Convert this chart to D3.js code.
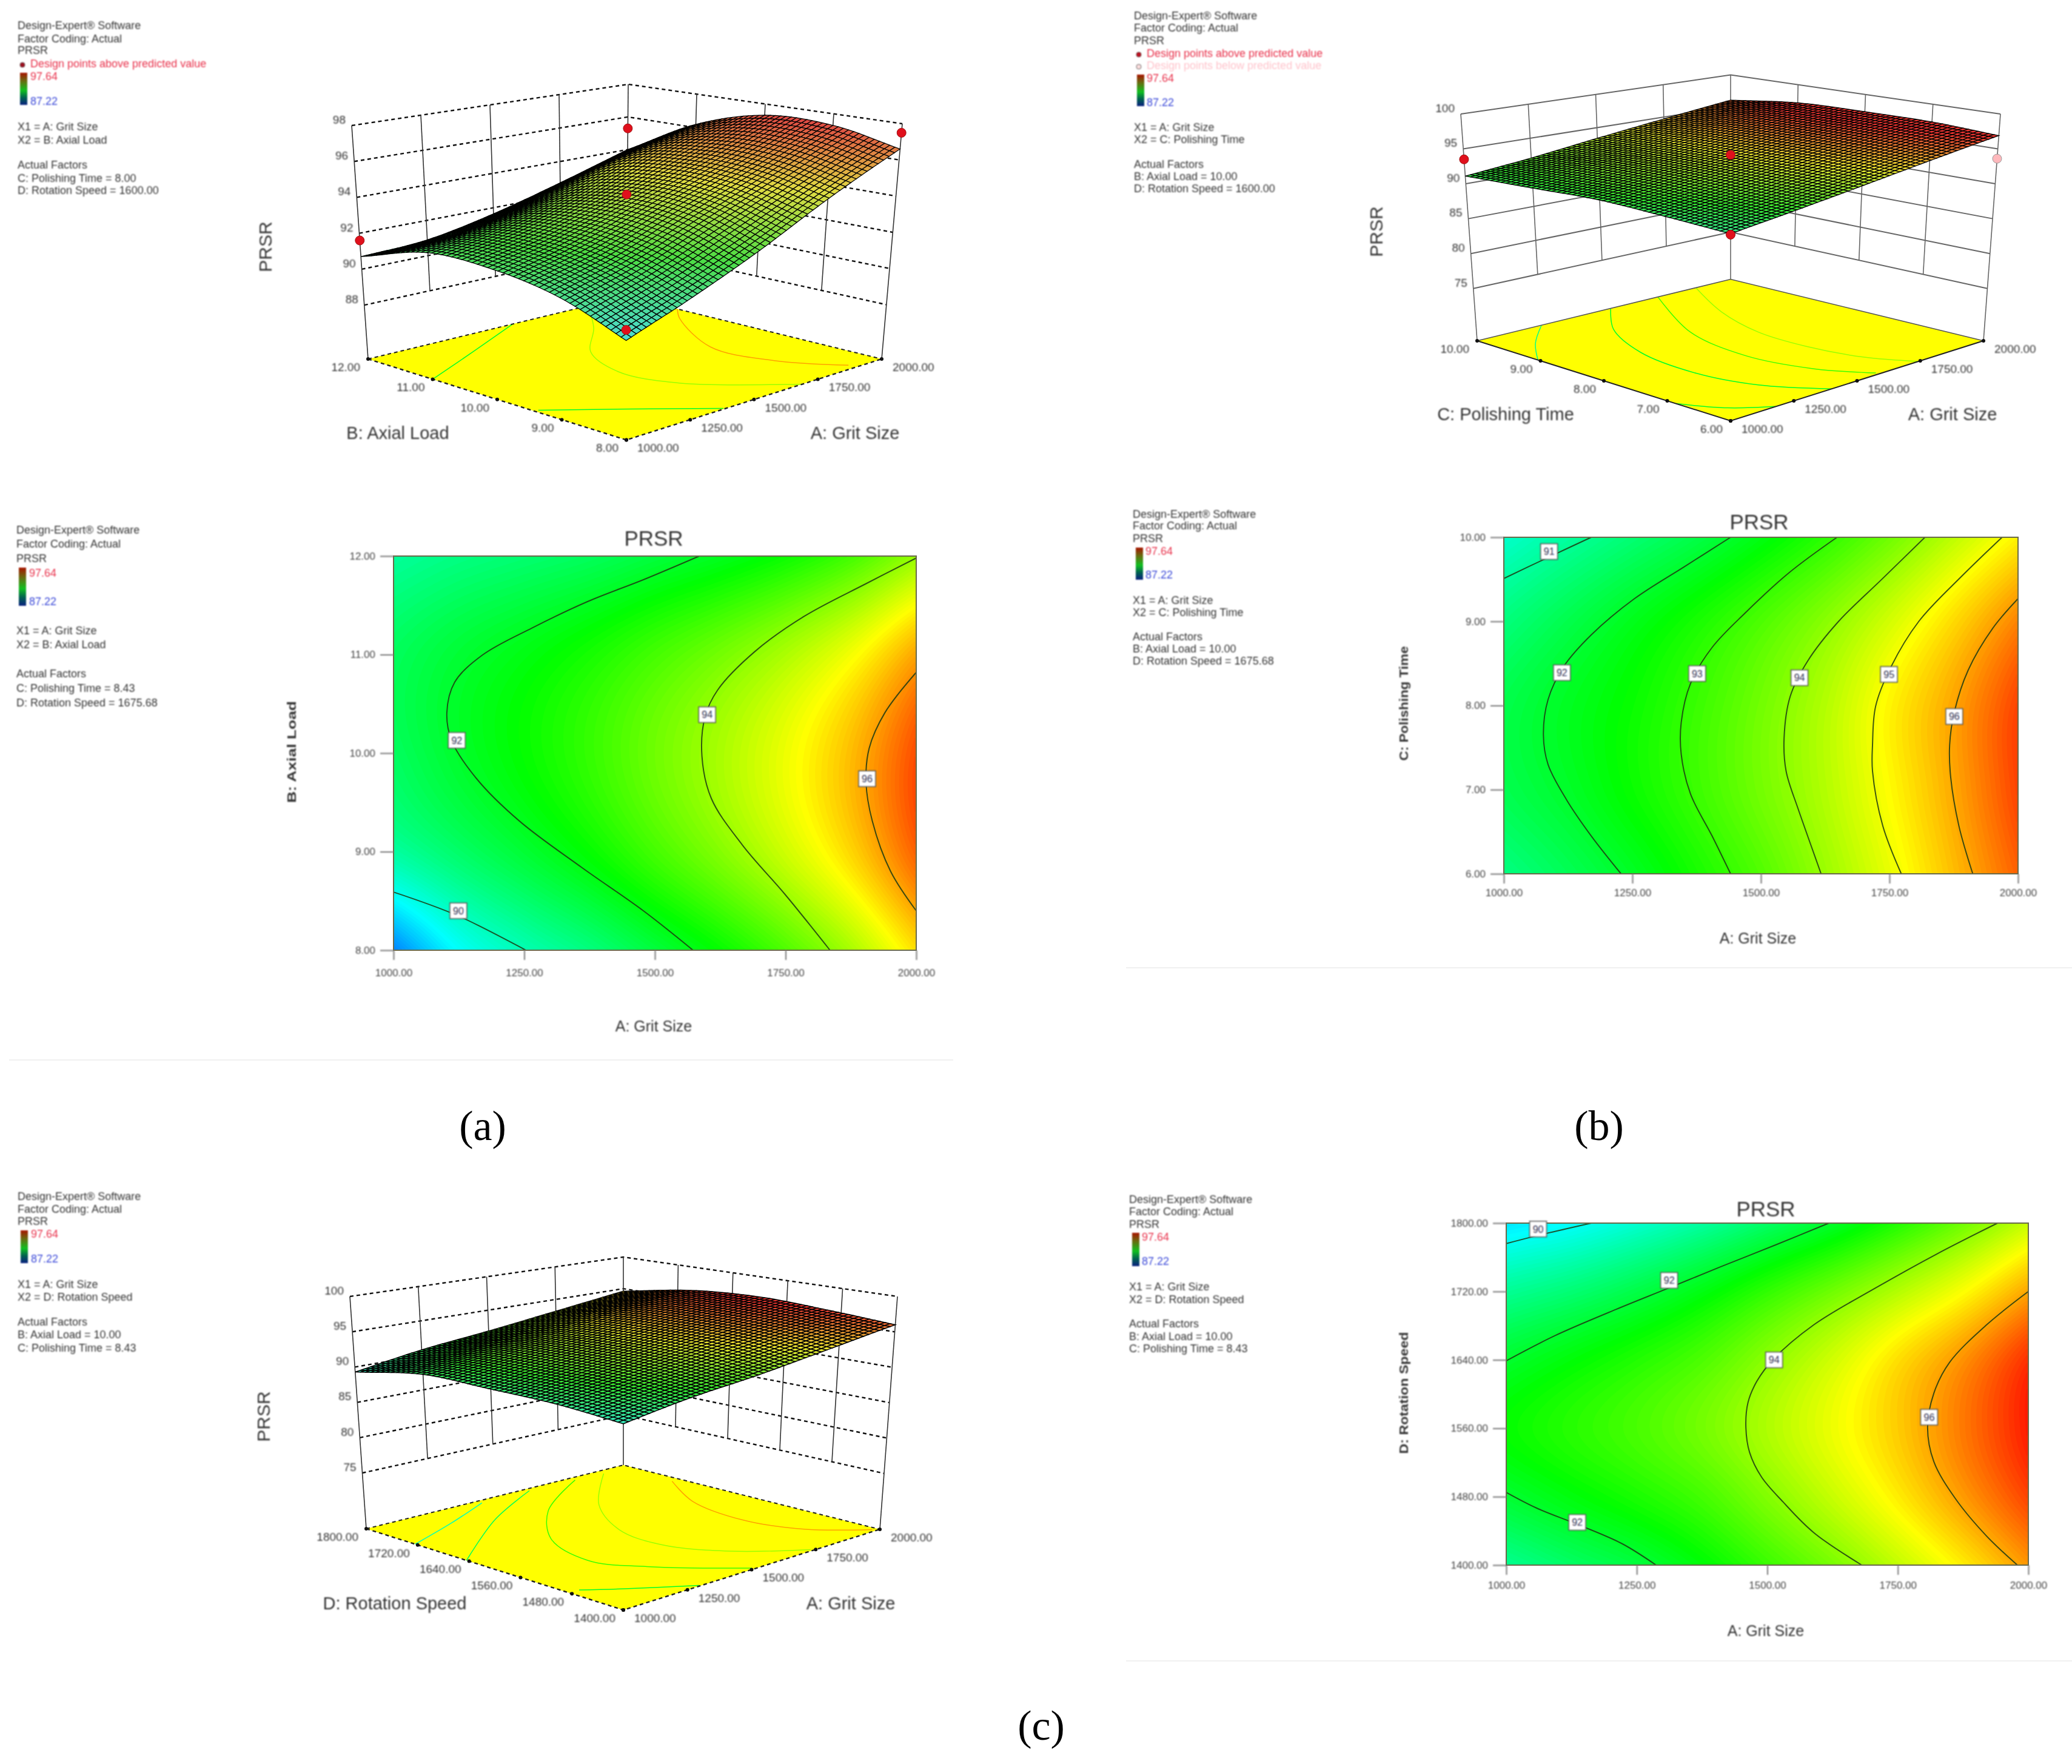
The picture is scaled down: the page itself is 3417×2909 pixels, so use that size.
<!DOCTYPE html>
<html>
<head>
<meta charset="utf-8">
<title>PRSR response surfaces</title>
<script src="https://cdn.jsdelivr.net/npm/d3@7"></script>
<style>
body { margin: 0; background: #fff; }
text { font-family: "Liberation Sans", Arial, sans-serif; fill: #333; }
.soft { filter: blur(0.8px); }
.mesh { filter: blur(0.5px); }
</style>
</head>
<body>
<div id="chart"></div>
<script>
// Tick values
const gritTicks = [1000, 1250, 1500, 1750, 2000];
const axialTicks = [8, 9, 10, 11, 12];
const polishTicks = [6, 7, 8, 9, 10];
const rotationTicks = [1400, 1480, 1560, 1640, 1720, 1800];
const zTicksAxial = [88, 90, 92, 94, 96, 98];
const zTicksWide = [75, 80, 85, 90, 95, 100];

// Contour plot responses.
// One row per factor step (low to high), columns are Grit Size 1000..2000 by 125
const fieldAxial = [
    [88.6, 89.9, 90.63, 91.19, 91.85, 92.51, 93.27, 94.19, 95.4],
    [90.83, 91.41, 91.94, 92.5, 93.16, 93.82, 94.58, 95.49, 96.7],
    [91.5, 92.03, 92.5, 93.0, 93.6, 94.2, 94.9, 95.75, 96.9],
    [91.53, 91.94, 92.29, 92.68, 93.16, 93.65, 94.23, 94.97, 96.0],
    [90.9, 91.14, 91.33, 91.54, 91.85, 92.16, 92.57, 93.14, 94.0]
];
const fieldPolish = [
    [91.15, 91.6, 92.1, 92.7, 93.3, 94.05, 94.85, 95.75, 96.7],
    [91.65, 92.05, 92.55, 93.07, 93.65, 94.3, 95.1, 95.97, 97.0],
    [91.7, 92.13, 92.55, 93.05, 93.63, 94.3, 95.17, 96.0, 97.0],
    [91.2, 91.7, 92.2, 92.7, 93.25, 93.87, 94.62, 95.45, 96.35],
    [90.4, 90.85, 91.3, 91.75, 92.3, 92.9, 93.6, 94.4, 95.2]
];
const fieldRotation = [
    [91.0, 91.45, 91.85, 92.4, 93.05, 93.7, 94.45, 95.25, 96.15],
    [91.95, 92.35, 92.72, 93.15, 93.8, 94.5, 95.25, 96.1, 97.0],
    [92.5, 92.85, 93.2, 93.65, 94.25, 94.9, 95.6, 96.45, 97.4],
    [92.0, 92.4, 92.8, 93.25, 93.9, 94.6, 95.4, 96.2, 97.2],
    [90.95, 91.3, 91.75, 92.3, 92.95, 93.6, 94.3, 95.05, 96.0],
    [89.6, 89.9, 90.35, 90.85, 91.45, 92.05, 92.8, 93.6, 94.5]
];

// Contour lines, [grit size, factor]
const linesAxial = [
    { level: 90, pts: [[1000, 8.59], [1123, 8.35], [1253, 8]] },
    { level: 92, pts: [[1585, 12], [1478, 11.76], [1372, 11.54], [1265, 11.27], [1170, 10.995], [1117, 10.72], [1102, 10.41], [1111, 10.13], [1159, 9.74], [1241, 9.31], [1360, 8.84], [1478, 8.4], [1573, 8]] },
    { level: 94, pts: [[2000, 11.98], [1904, 11.72], [1786, 11.39], [1691, 11.03], [1620, 10.64], [1596, 10.37], [1590, 9.97], [1608, 9.54], [1667, 9.07], [1750, 8.56], [1835, 8]] },
    { level: 96, pts: [[2000, 10.82], [1940, 10.41], [1910, 10.05], [1904, 9.7], [1916, 9.31], [1951, 8.8], [2000, 8.4]] }
];
const linesPolish = [
    { level: 91, pts: [[1000, 9.51], [1086, 9.76], [1170, 10]] },
    { level: 92, pts: [[1441, 10], [1351, 9.65], [1254, 9.27], [1170, 8.84], [1116, 8.46], [1086, 8.07], [1077, 7.65], [1086, 7.3], [1122, 6.88], [1170, 6.45], [1228, 6]] },
    { level: 93, pts: [[1648, 10], [1555, 9.58], [1471, 9.11], [1405, 8.69], [1363, 8.26], [1345, 7.8], [1345, 7.42], [1363, 6.95], [1405, 6.45], [1441, 6]] },
    { level: 94, pts: [[1819, 10], [1735, 9.5], [1651, 9], [1591, 8.53], [1557, 8.11], [1545, 7.61], [1549, 7.22], [1573, 6.76], [1617, 6]] },
    { level: 95, pts: [[1969, 10], [1891, 9.54], [1807, 9], [1753, 8.46], [1723, 7.99], [1717, 7.53], [1717, 7.22], [1737, 6.57], [1773, 6]] },
    { level: 96, pts: [[2000, 9.27], [1951, 8.92], [1903, 8.42], [1876, 7.92], [1867, 7.53], [1869, 7.15], [1885, 6.57], [1912, 6]] }
];
const linesRotation = [
    { level: 90, pts: [[1000, 1776], [1057, 1785], [1163, 1800]] },
    { level: 92, pts: [[1000, 1639], [1092, 1668], [1210, 1699], [1311, 1724], [1411, 1749], [1518, 1775], [1618, 1800]] },
    { level: 92, pts: [[1000, 1485], [1057, 1467], [1139, 1447], [1222, 1425], [1287, 1400]] },
    { level: 94, pts: [[1941, 1800], [1825, 1764], [1707, 1724], [1589, 1681], [1512, 1641], [1480, 1615], [1463, 1590], [1459, 1561], [1466, 1532], [1489, 1503], [1530, 1474], [1589, 1438], [1681, 1400]] },
    { level: 96, pts: [[2000, 1720], [1920, 1681], [1849, 1637], [1819, 1601], [1807, 1561], [1819, 1521], [1860, 1478], [1920, 1434], [1979, 1400]] }
];

// Contour label spots, [level, grit size, factor]
const labelsAxial = [[92, 1121, 10.13], [94, 1600, 10.39], [96, 1906, 9.74], [90, 1124, 8.4]];
const labelsPolish = [[91, 1088, 9.83], [92, 1113, 8.39], [93, 1376, 8.38], [94, 1575, 8.33], [95, 1749, 8.37], [96, 1876, 7.87]];
const labelsRotation = [[90, 1061, 1793], [92, 1312, 1733], [94, 1513, 1640], [96, 1810, 1573], [92, 1136, 1450]];

// 3D surface heights at the walls and centre.
// One row per factor step (low to high), columns are Grit Size 1000..2000 by 250
const surfAxial = [
    [89.7, 91.0, 92.6, 94.6, 96.6],
    [91.0, 92.1, 93.7, 95.4, 97.35],
    [91.65, 92.6, 94.0, 95.6, 97.35],
    [91.75, 92.4, 93.4, 95.0, 96.2],
    [90.7, 90.9, 91.65, 92.73, 94.0]
];
const surfPolish = [
    [90.2, 91.6, 93.2, 95.0, 96.9],
    [90.8, 92.1, 93.7, 95.5, 97.4],
    [91.3, 92.6, 93.9, 95.7, 97.4],
    [91.2, 92.6, 93.8, 95.5, 97.2],
    [91.1, 92.1, 93.4, 94.7, 96.0]
];
const surfRotation = [
    [89.5, 91.1, 92.4, 94.1, 96.0],
    [90.3, 91.9, 93.4, 95.1, 96.6],
    [90.6, 92.2, 93.7, 95.4, 97.0],
    [90.8, 92.1, 93.3, 95.0, 96.4],
    [89.3, 90.8, 91.9, 93.2, 94.6]
];

// Contours on the yellow floor of the 3D plots
const floorAxial = [
    { level: 92, pts: [[1560, 12], [1290, 11.5], [1000, 11]] },
    { level: 92, pts: [[1014, 9.42], [1205, 8.74], [1385, 8.02]] },
    { level: 94, pts: [[1850, 12], [1695, 11.28], [1514, 10.6], [1430, 9.84], [1470, 9.04], [1655, 8.14], [1690, 8]] },
    { level: 96, pts: [[2000, 11.2], [1930, 10.88], [1780, 9.8], [1800, 8.88], [1900, 8.12]] }
];
const floorPolish = [
    { level: 92, pts: [[1000, 6.86], [1076, 6.35], [1179, 6]] },
    { level: 91, pts: [[1254, 10], [1110, 9.52], [1000, 9.04]] },
    { level: 92, pts: [[1527, 10], [1378, 9.36], [1270, 8.5], [1240, 7.5], [1285, 6.7], [1400, 6]] },
    { level: 93, pts: [[1713, 10], [1516, 8.7], [1458, 7.59], [1500, 6.68], [1587, 6.05]] },
    { level: 94, pts: [[1863, 10], [1727, 9.05], [1650, 8.16], [1640, 7.36], [1672, 6.59], [1742, 6]] }
];
const floorRotation = [
    { level: 92, pts: [[1038, 1484], [1136, 1452], [1300, 1402]] },
    { level: 90.5, pts: [[1430, 1792], [1220, 1756], [1000, 1724]] },
    { level: 91.5, pts: [[1617, 1793], [1335, 1734], [1000, 1644]] },
    { level: 93, pts: [[1790, 1791], [1508, 1720], [1319, 1640], [1247, 1554], [1327, 1489], [1510, 1404]] },
    { level: 94, pts: [[1896, 1789], [1653, 1699], [1517, 1613], [1496, 1538], [1583, 1466], [1740, 1404]] },
    { level: 96, pts: [[1970, 1712], [1860, 1636], [1820, 1540], [1868, 1465], [1985, 1406]] }
];

// Design points [grit size, factor, PRSR, above predicted?]
const pointsAxial = [[1000, 12, 91.6, 1], [2000, 12, 95.3, 1], [2000, 8, 97.5, 1], [1500, 10, 94.2, 1], [1000, 8, 90.2, 1]];
const pointsPolish = [[1000, 10, 93.5, 1], [1500, 8, 94.26, 1], [1000, 6, 90.1, 1], [2000, 6, 93.6, 0]];
const pointsRotation = [];

const colorStops = [87.22, 89.825, 92.43, 95.035, 97.64];
const colorRange = ['#0000ff', '#00ffff', '#00ff00', '#ffff00', '#ff0000'];
const color = d3.scaleLinear().domain(colorStops).range(colorRange).clamp(true);
// The wire surfaces are shaded, so their colours sit paler than the flat contour fill
const shaded = (v, amount) => d3.interpolateRgb(color(v), '#b4aca0')(amount);

const svg = d3.select('#chart').append('svg')
    .attr('width', 3417)
    .attr('height', 2909)
    .style('display', 'block');

const defs = svg.append('defs');
const legendGrad = defs.append('linearGradient')
    .attr('id', 'legendGrad')
    .attr('x1', 0).attr('y1', 0).attr('x2', 0).attr('y2', 1);
[['0', '#a81400'], ['0.25', '#6a6a10'], ['0.55', '#10c020'], ['0.78', '#006050'], ['1', '#0a2080']].forEach(s => {
    legendGrad.append('stop').attr('offset', s[0]).attr('stop-color', s[1]);
});

// Catmull-Rom lookup in a value table, u along columns, v along rows, both 0..1.
// Only used to give the fills and the wire mesh a fine enough resolution
function sampleGrid(grid, u, v) {
    const rows = grid.length, cols = grid[0].length;
    const at = (r, c) => {
        const rr = Math.min(rows - 1, Math.max(0, r));
        const cc = Math.min(cols - 1, Math.max(0, c));
        let val = grid[rr][cc];
        if (r < 0) val += grid[0][cc] - grid[1][cc];
        if (r >= rows) val += grid[rows - 1][cc] - grid[rows - 2][cc];
        if (c < 0) val += grid[rr][0] - grid[rr][1];
        if (c >= cols) val += grid[rr][cols - 1] - grid[rr][cols - 2];
        return val;
    };
    const cr = (a, b, c, d, t) => 0.5 * (2 * b + (c - a) * t + (2 * a - 5 * b + 4 * c - d) * t * t + (3 * b - a - 3 * c + d) * t * t * t);
    const fx = Math.min(u * (cols - 1), cols - 1.000001), fy = Math.min(v * (rows - 1), rows - 1.000001);
    const c0 = Math.floor(fx), r0 = Math.floor(fy);
    const tx = fx - c0, ty = fy - r0;
    const row = r => cr(at(r, c0 - 1), at(r, c0), at(r, c0 + 1), at(r, c0 + 2), tx);
    return cr(row(r0 - 1), row(r0), row(r0 + 1), row(r0 + 2), ty);
}

const curved = d3.line().curve(d3.curveCatmullRom.alpha(0.5));
const straight = d3.line();

function drawLegend(cfg) {
    const g = svg.append('g').attr('class', 'soft');
    cfg.lines.forEach(l => {
        g.append('text')
            .attr('x', l.x !== undefined ? l.x : cfg.x)
            .attr('y', l.y)
            .style('font-size', '18px')
            .style('fill', l.color || '#333')
            .text(l.text);
    });
    g.append('rect')
        .attr('x', cfg.bar[0]).attr('y', cfg.bar[1])
        .attr('width', 12).attr('height', cfg.bar[2])
        .style('fill', 'url(#legendGrad)');
    (cfg.bullets || []).forEach(b => {
        g.append('circle')
            .attr('cx', b[0]).attr('cy', b[1]).attr('r', 4)
            .style('fill', b[2])
            .style('stroke', '#444')
            .style('stroke-width', 0.8);
    });
}

function drawContourPlot(cfg) {
    const x = d3.scaleLinear().domain([1000, 2000]).range(cfg.xr);
    const y = d3.scaleLinear().domain(d3.extent(cfg.yTicks)).range(cfg.yr);
    const g = svg.append('g');
    const w = cfg.xr[1] - cfg.xr[0], h = cfg.yr[0] - cfg.yr[1];

    // Colour fill from stacked filled contours
    const nx = 150, ny = 120;
    const values = [];
    for (let j = 0; j < ny; j++) {
        for (let i = 0; i < nx; i++) {
            values.push(sampleGrid(cfg.field, (i + 0.5) / nx, 1 - (j + 0.5) / ny));
        }
    }
    const contours = d3.contours().size([nx, ny]).thresholds(d3.range(86, 98.5, 0.08))(values);
    const toPlot = d3.geoTransform({
        point(px, py) {
            this.stream.point(cfg.xr[0] + px * w / nx, cfg.yr[1] + py * h / ny);
        }
    });
    g.append('g').selectAll('path')
        .data(contours)
        .join('path')
        .attr('d', d3.geoPath(toPlot))
        .style('fill', d => color(d.value));

    // Contour lines
    g.append('g').selectAll('path')
        .data(cfg.lines)
        .join('path')
        .attr('d', d => curved(d.pts.map(p => [x(p[0]), y(p[1])])))
        .style('fill', 'none')
        .style('stroke', '#1c3a12')
        .style('stroke-opacity', 0.85)
        .style('stroke-width', 2);

    // Frame
    g.append('rect')
        .attr('x', cfg.xr[0]).attr('y', cfg.yr[1])
        .attr('width', w).attr('height', h)
        .style('fill', 'none')
        .style('stroke', '#6a6a4a')
        .style('stroke-width', 2);

    // Axes
    const soft = svg.append('g').attr('class', 'soft');
    const xAxis = soft.append('g')
        .attr('transform', `translate(0, ${cfg.yr[0]})`)
        .call(d3.axisBottom(x).tickValues(gritTicks).tickSize(16).tickPadding(cfg.xPad).tickFormat(d3.format('.2f')));
    const yAxis = soft.append('g')
        .attr('transform', `translate(${cfg.xr[0]}, 0)`)
        .call(d3.axisLeft(y).tickValues(cfg.yTicks).tickSize(22).tickPadding(8).tickFormat(d3.format('.2f')));
    [xAxis, yAxis].forEach(a => {
        a.select('.domain').remove();
        a.selectAll('line').style('stroke', '#777').style('stroke-width', 2);
        a.selectAll('text').style('font-size', '17px').style('fill', '#444').style('font-family', '"Liberation Sans", Arial, sans-serif');
    });

    soft.append('text')
        .attr('x', cfg.title[0]).attr('y', cfg.title[1])
        .attr('text-anchor', 'middle')
        .attr('dy', '0.36em')
        .style('font-size', '35px')
        .text('PRSR');
    soft.append('text')
        .attr('x', cfg.xLabel[0]).attr('y', cfg.xLabel[1])
        .attr('text-anchor', 'middle')
        .attr('dy', '0.36em')
        .style('font-size', '25px')
        .text('A: Grit Size');
    soft.append('text')
        .attr('transform', `translate(${cfg.yLabel[0]}, ${cfg.yLabel[1]}) rotate(-90)`)
        .attr('text-anchor', 'middle')
        .attr('dy', '0.36em')
        .attr('textLength', cfg.yLabel[3])
        .attr('lengthAdjust', 'spacingAndGlyphs')
        .style('font-size', '21px')
        .style('font-weight', 'bold')
        .text(cfg.yLabel[2]);

    // Value tags on the contours
    const tags = soft.selectAll('g.tag')
        .data(cfg.labels)
        .join('g')
        .attr('class', 'tag')
        .attr('transform', d => `translate(${x(d[1])}, ${y(d[2])})`);
    tags.append('rect')
        .attr('x', -14).attr('y', -13)
        .attr('width', 28).attr('height', 26)
        .style('fill', '#fff')
        .style('stroke', '#555')
        .style('stroke-width', 1.5);
    tags.append('text')
        .attr('text-anchor', 'middle')
        .attr('dy', '0.36em')
        .style('font-size', '16px')
        .style('fill', '#335')
        .text(d => d[0]);
}

function drawSurface(cfg) {
    const uS = d3.scaleLinear().domain([1000, 2000]).range([0, 1]);
    const vS = d3.scaleLinear().domain(d3.extent(cfg.vTicks)).range([0, 1]);
    const wS = d3.scaleLinear().domain(cfg.zDomain).range([0, 1]);
    const c = cfg.corners;
    const lerp = (a, b, t) => a + (b - a) * t;
    const bil = (lvl, k, u, v) => lerp(
        lerp(c.F[lvl][k], c.R[lvl][k], u),
        lerp(c.L[lvl][k], c.B[lvl][k], u), v);
    const pr = (a, f, z) => {
        const u = uS(a), v = vS(f), w = wS(z);
        return [0, 1].map(k => lerp(bil(0, k, u, v), bil(1, k, u, v), w));
    };
    const aMax = 2000, aMin = 1000, fMin = vS.domain()[0], fMax = vS.domain()[1];
    const g = svg.append('g');
    const zLow = cfg.zTicks[0], zTop = cfg.zTicks[cfg.zTicks.length - 1];

    // Back walls
    const zPath = z => [pr(aMin, fMax, z), pr(aMax, fMax, z), pr(aMax, fMin, z)];
    g.append('g').selectAll('path')
        .data(cfg.zTicks)
        .join('path')
        .attr('d', d => straight(zPath(d)))
        .style('fill', 'none')
        .style('stroke', cfg.wallColor)
        .style('stroke-width', cfg.wallWidth)
        .style('stroke-dasharray', cfg.wallDash);

    const verticals = [];
    gritTicks.forEach(a => verticals.push([a, fMax, a === aMin || a === aMax ? cfg.zDomain[0] : zLow]));
    cfg.vTicks.filter(f => f < fMax).forEach(f => {
        verticals.push([aMax, f, f === fMin ? cfg.zDomain[0] : zLow]);
    });
    g.append('g').selectAll('path')
        .data(verticals)
        .join('path')
        .attr('d', d => straight([pr(d[0], d[1], zTop), pr(d[0], d[1], d[2])]))
        .style('stroke', cfg.vertColor)
        .style('stroke-width', 1.6);

    // Z tick labels on the left wall edge
    const soft = svg.append('g').attr('class', 'soft');
    soft.selectAll('text.ztick')
        .data(cfg.zTicks)
        .join('text')
        .attr('class', 'ztick')
        .attr('x', d => pr(aMin, fMax, d)[0] - 10)
        .attr('y', d => pr(aMin, fMax, d)[1] - 10)
        .attr('text-anchor', 'end')
        .attr('dy', '0.36em')
        .style('font-size', '19px')
        .text(d => d);

    // Yellow floor with its contours
    const corners = [[aMin, fMin], [aMax, fMin], [aMax, fMax], [aMin, fMax]].map(p => pr(p[0], p[1], cfg.zDomain[0]));
    g.append('path')
        .attr('d', straight(corners) + 'Z')
        .style('fill', '#ffff00');
    g.append('g').selectAll('path')
        .data(cfg.floor)
        .join('path')
        .attr('d', d => curved(d.pts.map(p => pr(p[0], p[1], cfg.zDomain[0]))))
        .style('fill', 'none')
        .style('stroke', d => color(d.level))
        .style('stroke-width', 1.5);
    g.append('path')
        .attr('d', straight([corners[3], corners[0], corners[1]]))
        .style('fill', 'none')
        .style('stroke', '#222')
        .style('stroke-width', cfg.wallWidth)
        .style('stroke-dasharray', cfg.wallDash);
    g.append('path')
        .attr('d', straight([corners[3], corners[2], corners[1]]))
        .style('fill', 'none')
        .style('stroke', cfg.wallDash === 'none' ? '#555' : '#222')
        .style('stroke-width', cfg.wallWidth - 0.4)
        .style('stroke-dasharray', cfg.wallDash);

    // Floor ticks and labels
    const fmt = d3.format('.2f');
    gritTicks.forEach(a => {
        const p = pr(a, fMin, cfg.zDomain[0]);
        g.append('circle').attr('cx', p[0]).attr('cy', p[1]).attr('r', 3).style('fill', '#111');
        soft.append('text')
            .attr('x', p[0] + 18).attr('y', p[1] + 13)
            .attr('dy', '0.36em')
            .style('font-size', '19px')
            .text(fmt(a));
    });
    cfg.vTicks.forEach(f => {
        const p = pr(aMin, f, cfg.zDomain[0]);
        g.append('circle').attr('cx', p[0]).attr('cy', p[1]).attr('r', 3).style('fill', '#111');
        soft.append('text')
            .attr('x', p[0] - 13).attr('y', p[1] + 13)
            .attr('text-anchor', 'end')
            .attr('dy', '0.36em')
            .style('font-size', '19px')
            .text(fmt(f));
    });

    // Surface mesh, painted from the back corner to the front one
    const n = 52;
    const cell = i => i / n;
    const uD = d3.scaleLinear().domain([0, 1]).range([aMin, aMax]);
    const vD = d3.scaleLinear().domain([0, 1]).range([fMin, fMax]);
    const cells = [];
    for (let j = n - 1; j >= 0; j--) {
        for (let i = n - 1; i >= 0; i--) {
            const q = [[i, j], [i + 1, j], [i + 1, j + 1], [i, j + 1]].map(p => {
                const z = sampleGrid(cfg.surf, cell(p[0]), cell(p[1]));
                return { z, xy: pr(uD(cell(p[0])), vD(cell(p[1])), z) };
            });
            cells.push(q);
        }
    }
    g.append('g').attr('class', 'mesh').selectAll('path')
        .data(cells)
        .join('path')
        .attr('d', d => straight(d.map(p => p.xy)) + 'Z')
        .style('fill', d => shaded(d3.mean(d, p => p.z) + cfg.colorShift, cfg.meshGrey))
        .style('stroke', '#000')
        .style('stroke-width', cfg.meshWidth);

    // Design points
    g.append('g').selectAll('circle')
        .data(cfg.points)
        .join('circle')
        .attr('cx', d => pr(d[0], d[1], d[2])[0])
        .attr('cy', d => pr(d[0], d[1], d[2])[1])
        .attr('r', 7.5)
        .style('fill', d => d[3] ? '#e0101c' : '#ffb8bc')
        .style('stroke', d => d[3] ? '#a01010' : '#999')
        .style('stroke-width', 1);

    // Axis titles
    soft.append('text')
        .attr('transform', `translate(${cfg.zLabel[0]}, ${cfg.zLabel[1]}) rotate(-90)`)
        .attr('text-anchor', 'middle')
        .attr('dy', '0.36em')
        .style('font-size', '30px')
        .text('PRSR');
    soft.append('text')
        .attr('x', cfg.vLabel[0]).attr('y', cfg.vLabel[1])
        .attr('text-anchor', 'middle')
        .attr('dy', '0.36em')
        .style('font-size', '29px')
        .text(cfg.vLabel[2]);
    soft.append('text')
        .attr('x', cfg.uLabel[0]).attr('y', cfg.uLabel[1])
        .attr('text-anchor', 'middle')
        .attr('dy', '0.36em')
        .style('font-size', '29px')
        .text('A: Grit Size');
}

// --- 3D plots ---
drawSurface({
    vTicks: axialTicks, zTicks: zTicksAxial, zDomain: [85, 98],
    corners: {
        F: [[1033, 725.5], [1032, 272]], R: [[1454, 592], [1488, 204]],
        L: [[607, 592], [580, 207]], B: [[1033, 489], [1036, 139]]
    },
    surf: surfAxial, floor: floorAxial, points: pointsAxial,
    wallColor: '#111', wallWidth: 2.4, wallDash: '6,5', vertColor: '#333',
    meshWidth: 1.25, meshGrey: 0.42, colorShift: 0.2,
    zLabel: [437, 407],
    vLabel: [656, 714, 'B: Axial Load'], uLabel: [1410, 714]
});
drawSurface({
    vTicks: polishTicks, zTicks: zTicksWide, zDomain: [67.5, 100],
    corners: {
        F: [[2854, 694], [2854, 252.5]], R: [[3271, 562], [3299, 188]],
        L: [[2436, 562], [2409, 188]], B: [[2854, 460.5], [2854, 123.6]]
    },
    surf: surfPolish, floor: floorPolish, points: pointsPolish,
    wallColor: '#666', wallWidth: 2, wallDash: 'none', vertColor: '#666',
    meshWidth: 1.3, meshGrey: 0.3, colorShift: 0.9,
    zLabel: [2269, 382],
    vLabel: [2483, 683, 'C: Polishing Time'], uLabel: [3220, 683]
});
drawSurface({
    vTicks: rotationTicks, zTicks: zTicksWide, zDomain: [67.1, 100],
    corners: {
        F: [[1028, 2655], [1028, 2204]], R: [[1451, 2522], [1480, 2138]],
        L: [[604, 2521], [577, 2138]], B: [[1028, 2416], [1028, 2073]]
    },
    surf: surfRotation, floor: floorRotation, points: pointsRotation,
    wallColor: '#111', wallWidth: 2.4, wallDash: '6,5', vertColor: '#333',
    meshWidth: 1.5, meshGrey: 0.3, colorShift: 0.9,
    zLabel: [434, 2336],
    vLabel: [651, 2643.5, 'D: Rotation Speed'], uLabel: [1403, 2643.5]
});

// --- Contour plots ---
drawContourPlot({
    xr: [649, 1511], yr: [1567, 917], yTicks: axialTicks, field: fieldAxial, xPad: 15,
    lines: linesAxial, labels: labelsAxial,
    title: [1078, 887], xLabel: [1078, 1692], yLabel: [480, 1240, 'B: Axial Load', 168]
});
drawContourPlot({
    xr: [2480, 3328], yr: [1441, 886], yTicks: polishTicks, field: fieldPolish, xPad: 9,
    lines: linesPolish, labels: labelsPolish,
    title: [2901, 860], xLabel: [2899, 1547], yLabel: [2314, 1160, 'C: Polishing Time', 189]
});
drawContourPlot({
    xr: [2484, 3345], yr: [2581, 2017], yTicks: rotationTicks, field: fieldRotation, xPad: 11,
    lines: linesRotation, labels: labelsRotation,
    title: [2912, 1993], xLabel: [2912, 2689], yLabel: [2314, 2297, 'D: Rotation Speed', 201]
});

// --- Legend blocks ---
const RED = '#e8304a', BLUE = '#3a48d8', PINK = '#ffc4cc';
drawLegend({
    x: 29, bar: [33, 120, 53], bullets: [[37, 107, '#a01020']],
    lines: [
        { text: 'Design-Expert® Software', y: 48 }, { text: 'Factor Coding: Actual', y: 70 }, { text: 'PRSR', y: 89 },
        { text: 'Design points above predicted value', x: 50, y: 111, color: RED },
        { text: '97.64', x: 50, y: 132, color: RED }, { text: '87.22', x: 50, y: 173, color: BLUE },
        { text: 'X1 = A: Grit Size', y: 215 }, { text: 'X2 = B: Axial Load', y: 237 },
        { text: 'Actual Factors', y: 278 }, { text: 'C: Polishing Time = 8.00', y: 300 }, { text: 'D: Rotation Speed = 1600.00', y: 320 }
    ]
});
drawLegend({
    x: 27, bar: [31, 936, 63],
    lines: [
        { text: 'Design-Expert® Software', y: 880 }, { text: 'Factor Coding: Actual', y: 903 }, { text: 'PRSR', y: 927 },
        { text: '97.64', x: 48, y: 951, color: RED }, { text: '87.22', x: 48, y: 998, color: BLUE },
        { text: 'X1 = A: Grit Size', y: 1046 }, { text: 'X2 = B: Axial Load', y: 1069 },
        { text: 'Actual Factors', y: 1117 }, { text: 'C: Polishing Time = 8.43', y: 1141 }, { text: 'D: Rotation Speed = 1675.68', y: 1165 }
    ]
});
drawLegend({
    x: 1870, bar: [1875, 123, 52], bullets: [[1878, 90, '#c01020'], [1878, 110, '#ffe0e0']],
    lines: [
        { text: 'Design-Expert® Software', y: 32 }, { text: 'Factor Coding: Actual', y: 52 }, { text: 'PRSR', y: 73 },
        { text: 'Design points above predicted value', x: 1891, y: 94, color: RED },
        { text: 'Design points below predicted value', x: 1891, y: 114, color: PINK },
        { text: '97.64', x: 1891, y: 135, color: RED }, { text: '87.22', x: 1891, y: 175, color: BLUE },
        { text: 'X1 = A: Grit Size', y: 216 }, { text: 'X2 = C: Polishing Time', y: 236 },
        { text: 'Actual Factors', y: 277 }, { text: 'B: Axial Load = 10.00', y: 297 }, { text: 'D: Rotation Speed = 1600.00', y: 317 }
    ]
});
drawLegend({
    x: 1868, bar: [1873, 903, 53],
    lines: [
        { text: 'Design-Expert® Software', y: 854 }, { text: 'Factor Coding: Actual', y: 873 }, { text: 'PRSR', y: 894 },
        { text: '97.64', x: 1889, y: 915, color: RED }, { text: '87.22', x: 1889, y: 954, color: BLUE },
        { text: 'X1 = A: Grit Size', y: 996 }, { text: 'X2 = C: Polishing Time', y: 1016 },
        { text: 'Actual Factors', y: 1056 }, { text: 'B: Axial Load = 10.00', y: 1076 }, { text: 'D: Rotation Speed = 1675.68', y: 1096 }
    ]
});
drawLegend({
    x: 29, bar: [34, 2029, 54],
    lines: [
        { text: 'Design-Expert® Software', y: 1979 }, { text: 'Factor Coding: Actual', y: 2000 }, { text: 'PRSR', y: 2020 },
        { text: '97.64', x: 51, y: 2041, color: RED }, { text: '87.22', x: 51, y: 2082, color: BLUE },
        { text: 'X1 = A: Grit Size', y: 2124 }, { text: 'X2 = D: Rotation Speed', y: 2145 },
        { text: 'Actual Factors', y: 2186 }, { text: 'B: Axial Load = 10.00', y: 2207 }, { text: 'C: Polishing Time = 8.43', y: 2229 }
    ]
});
drawLegend({
    x: 1862, bar: [1867, 2033, 55],
    lines: [
        { text: 'Design-Expert® Software', y: 1984 }, { text: 'Factor Coding: Actual', y: 2004 }, { text: 'PRSR', y: 2025 },
        { text: '97.64', x: 1883, y: 2046, color: RED }, { text: '87.22', x: 1883, y: 2086, color: BLUE },
        { text: 'X1 = A: Grit Size', y: 2128 }, { text: 'X2 = D: Rotation Speed', y: 2149 },
        { text: 'Actual Factors', y: 2189 }, { text: 'B: Axial Load = 10.00', y: 2210 }, { text: 'C: Polishing Time = 8.43', y: 2230 }
    ]
});

// Faint separators under the contour plots
[[15, 1572, 1748], [1857, 3417, 1596], [1857, 3417, 2739]].forEach(s => {
    svg.append('line')
        .attr('x1', s[0]).attr('x2', s[1]).attr('y1', s[2]).attr('y2', s[2])
        .style('stroke', '#f0f0f0')
        .style('stroke-width', 2);
});

// Sub-figure captions
[['(a)', 796, 1856], ['(b)', 2637, 1856], ['(c)', 1717, 2845]].forEach(c => {
    svg.append('text')
        .attr('x', c[1]).attr('y', c[2])
        .attr('text-anchor', 'middle')
        .attr('dy', '0.34em')
        .style('font-family', '"Liberation Serif", serif')
        .style('font-size', '70px')
        .style('fill', '#000')
        .text(c[0]);
});
</script>
</body>
</html>
